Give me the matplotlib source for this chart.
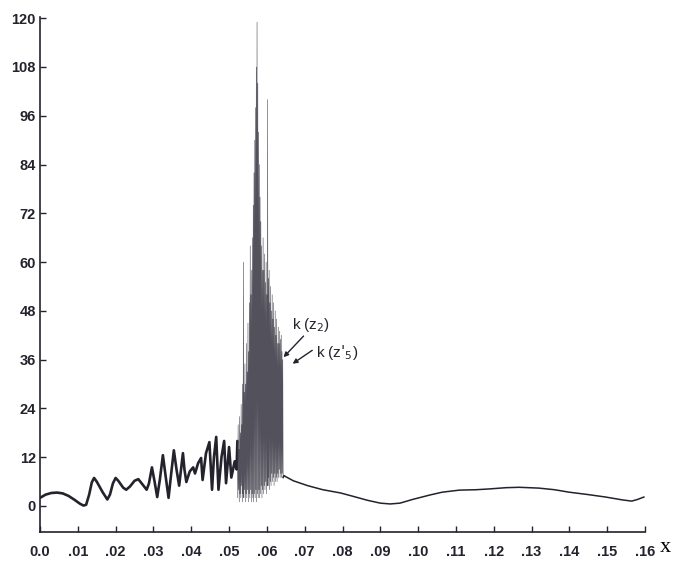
import matplotlib
matplotlib.use("Agg")
import matplotlib.pyplot as plt

# ---- data ----
early_x = [0.0000, 0.0015, 0.0030, 0.0045, 0.0060, 0.0075, 0.0090, 0.0105, 0.0115, 0.0122,
           0.0130, 0.0137, 0.0143, 0.0150, 0.0165, 0.0178, 0.0185, 0.0193, 0.0200, 0.0207,
           0.0220, 0.0228, 0.0238, 0.0250, 0.0260, 0.0272, 0.0282, 0.0288, 0.0296, 0.0303,
           0.0310, 0.0317, 0.0325, 0.0332, 0.0340, 0.0347, 0.0354, 0.0361, 0.0368, 0.0373,
           0.0378, 0.0382, 0.0387, 0.0396, 0.0405, 0.0410, 0.0418, 0.0426, 0.0430, 0.0439,
           0.0448, 0.0455, 0.0460, 0.0466, 0.0472, 0.0480, 0.0487, 0.0492, 0.0500, 0.0506,
           0.0515, 0.0520]
early_y = [2.0, 2.8, 3.2, 3.3, 3.1, 2.5, 1.6, 0.6, 0.1, 0.3,
           2.8, 5.8, 6.9, 6.0, 3.5, 1.6, 2.8, 5.6, 6.9, 6.2,
           4.5, 4.0, 4.8, 6.2, 6.6, 5.2, 4.0, 5.5, 9.5, 6.0,
           2.2, 6.5, 12.5, 7.5, 2.0, 8.0, 13.7, 9.0, 5.0, 9.0,
           13.0, 9.0, 5.9, 8.5, 9.5, 8.0, 10.5, 11.8, 6.4, 13.0,
           15.7, 4.0, 12.0, 17.0, 4.0, 12.0, 16.0, 5.6, 14.5, 7.0,
           11.0, 9.0]

# burst region: local maxima and minima
burst_hi_x = [0.0522, 0.0524, 0.0526, 0.0528, 0.0530, 0.0532, 0.0534, 0.0536, 0.0538, 0.0540,
              0.0542, 0.0544, 0.0546, 0.0548, 0.0550, 0.0552, 0.0554, 0.0556, 0.0558, 0.0560,
              0.0562, 0.0564, 0.0566, 0.0568, 0.0570, 0.0572, 0.0574, 0.0576, 0.0578, 0.0580,
              0.0582, 0.0584, 0.0586, 0.0588, 0.0590, 0.0592, 0.0594, 0.0596, 0.0598, 0.0600,
              0.0602, 0.0604, 0.0606, 0.0608, 0.0610, 0.0612, 0.0614, 0.0616, 0.0618, 0.0620,
              0.0622, 0.0624, 0.0626, 0.0628, 0.0630, 0.0632, 0.0634, 0.0636, 0.0638, 0.0640,
              0.0642]
burst_hi = [16, 20, 14, 22, 18, 25, 20, 30, 60, 28,
            35, 30, 40, 33, 45, 38, 50, 64, 52, 58,
            66, 74, 82, 90, 98, 108, 119, 104, 92, 84,
            76, 70, 64, 58, 66, 58, 62, 55, 60, 52,
            100, 56, 58, 50, 54, 48, 52, 46, 50, 44,
            48, 42, 46, 40, 44, 40, 43, 41, 42, 38,
            36]
burst_lo_x = [0.0523, 0.0525, 0.0527, 0.0529, 0.0531, 0.0533, 0.0535, 0.0537, 0.0539, 0.0541,
              0.0543, 0.0545, 0.0547, 0.0549, 0.0551, 0.0553, 0.0555, 0.0557, 0.0559, 0.0561,
              0.0563, 0.0565, 0.0567, 0.0569, 0.0571, 0.0573, 0.0575, 0.0577, 0.0579, 0.0581,
              0.0583, 0.0585, 0.0587, 0.0589, 0.0591, 0.0593, 0.0595, 0.0597, 0.0599, 0.0601,
              0.0603, 0.0605, 0.0607, 0.0609, 0.0611, 0.0613, 0.0615, 0.0617, 0.0619, 0.0621,
              0.0623, 0.0625, 0.0627, 0.0629, 0.0631, 0.0633, 0.0635, 0.0637, 0.0639, 0.0641,
              0.0643]
burst_lo = [2, 4, 1, 3, 2, 5, 1, 3, 2, 4,
            1, 3, 2, 4, 1, 3, 2, 4, 1, 3,
            2, 1, 3, 2, 4, 1, 3, 2, 4, 2,
            3, 5, 2, 4, 3, 5, 4, 6, 3, 5,
            5, 7, 4, 6, 5, 8, 6, 7, 5, 8,
            6, 7, 6, 8, 7, 9, 7, 8, 7, 8,
            7]

tail_x = [0.0645, 0.0650, 0.0670, 0.0708, 0.0748, 0.0795, 0.0827, 0.0866, 0.0900, 0.0926,
          0.0952, 0.0985, 0.1031, 0.1064, 0.1109, 0.1153, 0.1189, 0.1232, 0.1267, 0.1319,
          0.1361, 0.1399, 0.1450, 0.1496, 0.1540, 0.1565, 0.1580, 0.1597]
tail_y = [7.5, 7.2, 6.2, 5.0, 4.0, 3.2, 2.4, 1.4, 0.7, 0.5,
          0.7, 1.6, 2.7, 3.4, 3.9, 4.0, 4.2, 4.5, 4.6, 4.4,
          4.0, 3.4, 2.8, 2.2, 1.5, 1.2, 1.6, 2.2]

x_ticks = [0.00, 0.01, 0.02, 0.03, 0.04, 0.05, 0.06, 0.07, 0.08,
           0.09, 0.10, 0.11, 0.12, 0.13, 0.14, 0.15, 0.16]
x_tick_labels = ["0.0", ".01", ".02", ".03", ".04", ".05", ".06", ".07", ".08",
                 ".09", ".10", ".11", ".12", ".13", ".14", ".15", ".16"]
y_ticks = [0, 12, 24, 36, 48, 60, 72, 84, 96, 108, 120]

# ---- figure ----
ink = "#24222c"
fig = plt.figure(figsize=(6.8, 5.65), dpi=100)
ax = fig.add_axes([40 / 680, (565 - 532) / 565, (645 - 40) / 680, (532 - 17) / 565])

# merge burst maxima/minima in x order
burst_pts = sorted(list(zip(burst_hi_x, burst_hi)) + list(zip(burst_lo_x, burst_lo)))
burst_x = [p[0] for p in burst_pts]
burst_y = [p[1] for p in burst_pts]

ax.plot(early_x + [burst_x[0]], early_y + [burst_y[0]], color=ink, lw=1.9,
        solid_joinstyle="round", solid_capstyle="round")
ax.plot(burst_x, burst_y, color="#35333f", lw=0.42, alpha=0.85)
ax.plot([burst_x[-1]] + tail_x, [burst_y[-1]] + tail_y, color=ink, lw=1.1)

ax.set_xlim(0, 0.1597)
ax.set_ylim(-6.4, 120.3)
ax.spines["top"].set_visible(False)
ax.spines["right"].set_visible(False)
for s in ("left", "bottom"):
    ax.spines[s].set_linewidth(1.2)
    ax.spines[s].set_color(ink)

ax.set_xticks(x_ticks)
ax.set_xticklabels(x_tick_labels)
ax.set_yticks(y_ticks)
ax.set_yticklabels([str(v) for v in y_ticks])
ax.tick_params(axis="both", direction="in", length=4, width=1.0, colors=ink,
               labelsize=10.5)
ax.tick_params(axis="x", pad=9)
ax.tick_params(axis="y", pad=3)
for lab in ax.get_xticklabels() + ax.get_yticklabels():
    lab.set_fontfamily("Liberation Sans")
    lab.set_fontweight("bold")

# annotations
ax.text(0.0666, 44.5, "k (z$_2$)", fontsize=11, family="Liberation Sans",
        color=ink, va="center", ha="left")
ax.text(0.0731, 37.8, "k (z$'_5$)", fontsize=11, family="Liberation Sans",
        color=ink, va="center", ha="left")
ax.annotate("", xy=(0.0644, 36.6), xytext=(0.0697, 41.8),
            arrowprops=dict(arrowstyle="-|>", color=ink, lw=1.0, mutation_scale=7,
                            shrinkA=0, shrinkB=0))
ax.annotate("", xy=(0.0668, 35.0), xytext=(0.0720, 38.3),
            arrowprops=dict(arrowstyle="-|>", color=ink, lw=1.0, mutation_scale=7,
                            shrinkA=0, shrinkB=0))

fig.text(665 / 680, (565 - 548) / 565, "x", fontsize=16, family="Liberation Serif",
         ha="center", va="center", color="black")

fig.savefig("out.png", dpi=100, facecolor="white")
